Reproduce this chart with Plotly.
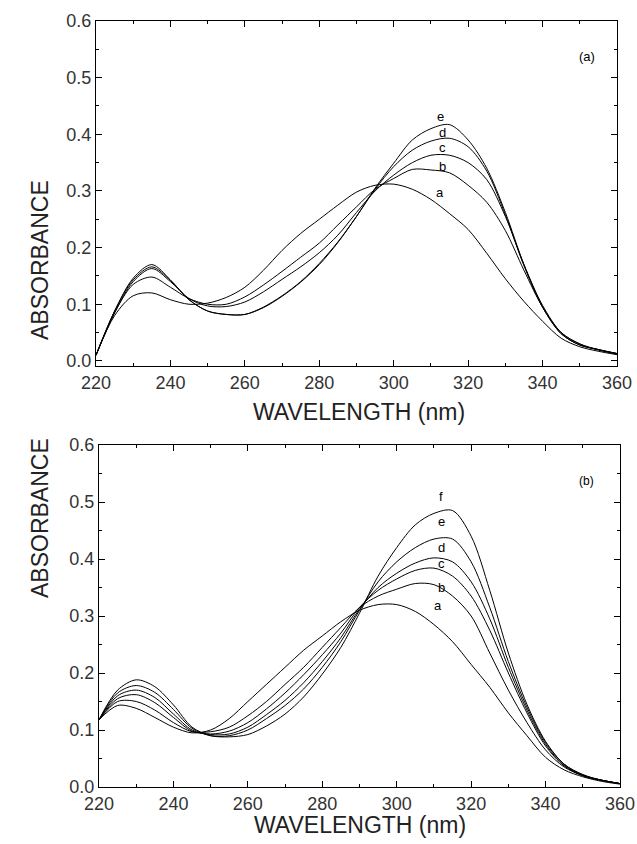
import plotly.graph_objects as go

# wavelength grid (nm)
wavelength = [220, 225, 230, 235, 240, 245, 250, 255, 260, 265, 270, 275, 280, 285, 290,
              295, 300, 305, 310, 315, 320, 325, 330, 335, 340, 345, 350, 355, 360]

# panel (a) spectra
a_a = [0.010, 0.080, 0.115, 0.120, 0.108, 0.100, 0.102, 0.112, 0.130, 0.160, 0.195, 0.225, 0.250, 0.275, 0.298,
       0.310, 0.312, 0.303, 0.285, 0.260, 0.232, 0.190, 0.145, 0.105, 0.070, 0.040, 0.025, 0.017, 0.011]
a_b = [0.010, 0.085, 0.135, 0.148, 0.130, 0.110, 0.100, 0.100, 0.113, 0.134, 0.158, 0.183, 0.208, 0.240, 0.272,
       0.303, 0.322, 0.338, 0.337, 0.332, 0.310, 0.280, 0.230, 0.160, 0.095, 0.050, 0.030, 0.019, 0.012]
a_c = [0.010, 0.085, 0.140, 0.163, 0.140, 0.110, 0.097, 0.096, 0.104, 0.122, 0.144, 0.166, 0.191, 0.222, 0.262,
       0.300, 0.328, 0.350, 0.363, 0.363, 0.350, 0.320, 0.255, 0.170, 0.098, 0.050, 0.030, 0.020, 0.013]
a_d = [0.010, 0.088, 0.143, 0.166, 0.142, 0.108, 0.088, 0.082, 0.082, 0.095, 0.115, 0.140, 0.172, 0.210, 0.255,
       0.303, 0.343, 0.372, 0.388, 0.393, 0.378, 0.335, 0.258, 0.168, 0.095, 0.048, 0.028, 0.020, 0.013]
a_e = [0.010, 0.088, 0.146, 0.170, 0.143, 0.108, 0.088, 0.082, 0.082, 0.094, 0.114, 0.139, 0.170, 0.209, 0.255,
       0.305, 0.349, 0.390, 0.410, 0.417, 0.390, 0.340, 0.262, 0.170, 0.095, 0.048, 0.028, 0.020, 0.013]

# panel (b) spectra
b_a = [0.118, 0.143, 0.138, 0.122, 0.105, 0.095, 0.100, 0.120, 0.150, 0.180, 0.210, 0.240, 0.265, 0.290, 0.310,
       0.320, 0.320, 0.308, 0.285, 0.255, 0.215, 0.175, 0.130, 0.090, 0.052, 0.030, 0.018, 0.010, 0.005]
b_b = [0.118, 0.150, 0.150, 0.135, 0.113, 0.097, 0.097, 0.105, 0.125, 0.150, 0.180, 0.210, 0.245, 0.280, 0.315,
       0.335, 0.347, 0.357, 0.355, 0.335, 0.300, 0.235, 0.170, 0.113, 0.065, 0.035, 0.020, 0.012, 0.006]
b_c = [0.118, 0.155, 0.162, 0.148, 0.122, 0.098, 0.093, 0.098, 0.113, 0.137, 0.165, 0.197, 0.232, 0.270, 0.315,
       0.345, 0.365, 0.380, 0.384, 0.370, 0.335, 0.275, 0.200, 0.130, 0.072, 0.037, 0.020, 0.012, 0.006]
b_d = [0.118, 0.160, 0.170, 0.157, 0.128, 0.100, 0.092, 0.093, 0.105, 0.127, 0.152, 0.183, 0.220, 0.262, 0.312,
       0.350, 0.375, 0.393, 0.402, 0.395, 0.360, 0.295, 0.210, 0.135, 0.075, 0.038, 0.020, 0.012, 0.006]
b_e = [0.118, 0.165, 0.178, 0.166, 0.136, 0.103, 0.090, 0.090, 0.100, 0.120, 0.143, 0.172, 0.210, 0.255, 0.310,
       0.360, 0.395, 0.420, 0.435, 0.435, 0.395, 0.315, 0.220, 0.140, 0.078, 0.040, 0.021, 0.012, 0.006]
b_f = [0.118, 0.170, 0.188, 0.176, 0.144, 0.105, 0.090, 0.088, 0.092, 0.107, 0.128, 0.158, 0.198, 0.245, 0.305,
       0.370, 0.420, 0.460, 0.480, 0.485, 0.440, 0.345, 0.235, 0.145, 0.080, 0.040, 0.022, 0.012, 0.006]

panel_a = {"a": a_a, "b": a_b, "c": a_c, "d": a_d, "e": a_e}
panel_b = {"a": b_a, "b": b_b, "c": b_c, "d": b_d, "e": b_e, "f": b_f}

# curve label anchor points (wavelength, absorbance)
labels_a = {"e": (312.5, 0.432), "d": (313, 0.404), "c": (313, 0.376), "b": (313, 0.343), "a": (312.5, 0.298)}
labels_b = {"f": (312, 0.509), "e": (312, 0.466), "d": (312, 0.421), "c": (312, 0.392), "b": (312, 0.350), "a": (311, 0.319)}

x_ticks = [220, 240, 260, 280, 300, 320, 340, 360]
y_ticks = [0.0, 0.1, 0.2, 0.3, 0.4, 0.5, 0.6]

FONT = "Liberation Sans, Arial, sans-serif"
W, H = 637, 844

fig = go.Figure()
for name, vals in panel_a.items():
    fig.add_trace(go.Scatter(x=wavelength, y=vals, mode="lines", name=name, xaxis="x", yaxis="y",
                             line=dict(color="black", width=1, shape="spline", smoothing=0.9)))
for name, vals in panel_b.items():
    fig.add_trace(go.Scatter(x=wavelength, y=vals, mode="lines", name=name, xaxis="x2", yaxis="y2",
                             line=dict(color="black", width=1, shape="spline", smoothing=0.9)))

def xax(domain, anchor):
    return dict(domain=domain, anchor=anchor, range=[220, 360], tickvals=x_ticks, automargin=False,
                ticks="inside", ticklen=6, tickcolor="black", showline=True, linecolor="black",
                linewidth=1, mirror="ticks", showgrid=False, zeroline=False,
                minor=dict(dtick=10, ticks="inside", ticklen=3, tickcolor="black"),
                tickfont=dict(family=FONT, size=18, color="#333"))

def yax(domain, anchor, rng):
    return dict(domain=domain, anchor=anchor, range=rng, tickvals=y_ticks, automargin=False,
                ticktext=["0.0", "0.1", "0.2", "0.3", "0.4", "0.5", "0.6"],
                ticks="inside", ticklen=6, tickcolor="black", showline=True, linecolor="black",
                linewidth=1, mirror="ticks", showgrid=False, zeroline=False,
                minor=dict(dtick=0.05, ticks="inside", ticklen=3, tickcolor="black"),
                tickfont=dict(family=FONT, size=18, color="#333"))

ann = []
for k, (x, y) in labels_a.items():
    ann.append(dict(x=x, y=y, xref="x", yref="y", text=k, showarrow=False,
                    font=dict(family=FONT, size=13, color="black")))
for k, (x, y) in labels_b.items():
    ann.append(dict(x=x, y=y, xref="x2", yref="y2", text=k, showarrow=False,
                    font=dict(family=FONT, size=13, color="black")))
ann.append(dict(x=352, y=0.537, xref="x", yref="y", text="(a)", showarrow=False,
                font=dict(family=FONT, size=13, color="black")))
ann.append(dict(x=351, y=0.537, xref="x2", yref="y2", text="(b)", showarrow=False,
                font=dict(family=FONT, size=12, color="black")))
for yc in [1 - 178 / H, 1 - 600 / H]:
    ann.append(dict(x=25 / W, y=yc, xref="paper", yref="paper", text="ABSORBANCE", textangle=-90,
                    showarrow=False, font=dict(family=FONT, size=23, color="#222")))
for yc, xc in [(1 - 412 / H, 359 / W), (1 - 840 / H, 360 / W)]:
    ann.append(dict(x=xc, y=yc, xref="paper", yref="paper", text="WAVELENGTH (nm)",
                    showarrow=False, font=dict(family=FONT, size=23, color="#222")))

fig.update_layout(
    width=W, height=H, autosize=False,
    margin=dict(l=0, r=0, t=0, b=0),
    paper_bgcolor="white", plot_bgcolor="white",
    showlegend=False,
    xaxis=xax([96 / W, 617 / W], "y"),
    yaxis=yax([1 - 366 / H, 1 - 21 / H], "x", [-0.009, 0.6]),
    xaxis2=xax([99 / W, 620 / W], "y2"),
    yaxis2=yax([1 - 787 / H, 1 - 445 / H], "x2", [0, 0.6]),
    annotations=ann,
)

# page body margin would otherwise offset the fixed-size figure
fig.write_html("out.html", config={"displayModeBar": False},
               post_script="document.body.style.margin='0';")
